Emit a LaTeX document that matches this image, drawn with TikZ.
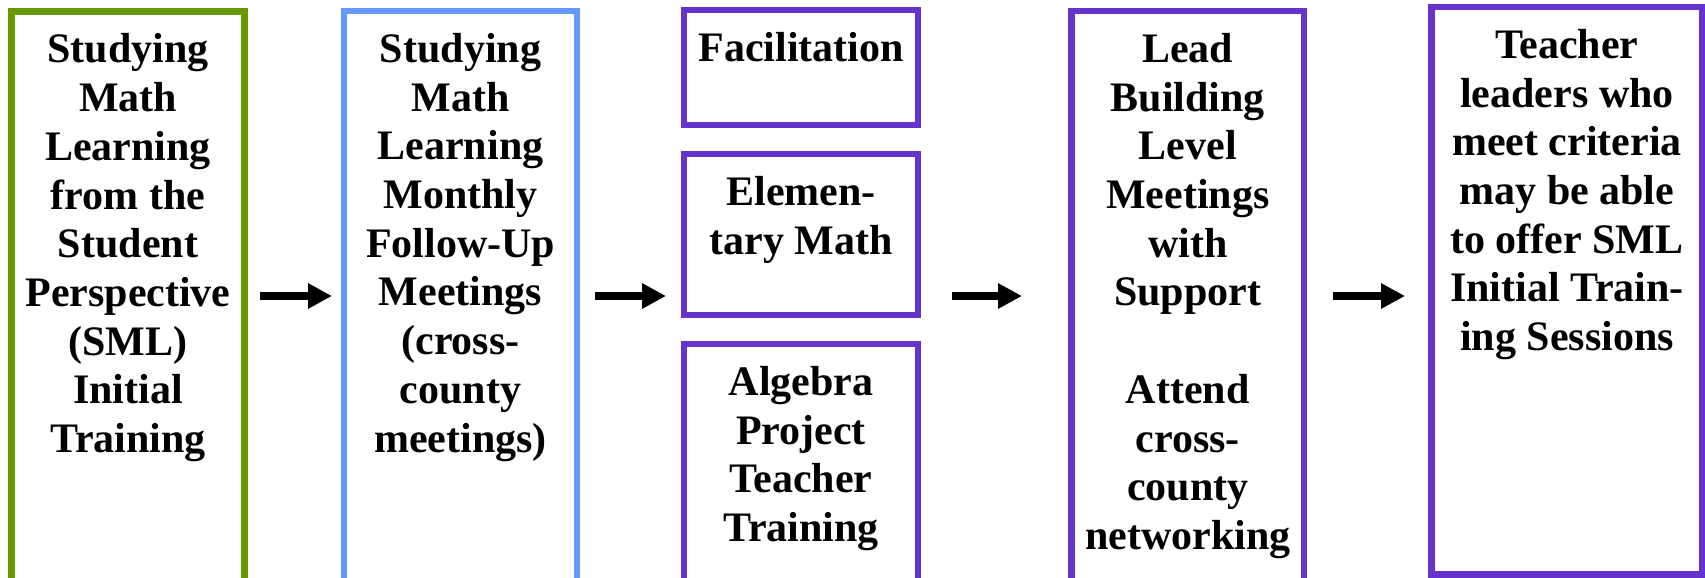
\documentclass[tikz,border=0pt]{standalone}
\usepackage{fontspec}
\setmainfont{Liberation Serif}
\usetikzlibrary{arrows.meta,calc}
\definecolor{stageGreen}{RGB}{102,153,0}
\definecolor{stageBlue}{RGB}{102,153,255}
\definecolor{stagePurple}{RGB}{102,51,204}
\begin{document}
\begin{tikzpicture}[x=1pt,y=-1pt,
  stagebox/.style={draw=#1, line width=6.8pt, inner sep=0pt, outer sep=0pt, anchor=north west},
  stagetext/.style={font=\bfseries\fontsize{42}{48.7}\selectfont, align=center, inner sep=0pt, anchor=north},
  arr/.style={line width=8pt, -{Triangle[length=24pt,width=24pt]}}]
\useasboundingbox (0,0) rectangle (1705,578);
\clip (0,0) rectangle (1705,578);
\fill[white] (0,0) rectangle (1705,578);

% stage frames
\node[stagebox=stageGreen,  minimum width=233pt,   minimum height=571pt]   (sml)    at (11.5,11.5) {};
\node[stagebox=stageBlue,   minimum width=233pt,   minimum height=572pt]   (follow) at (344,11) {};
\node[stagebox=stagePurple, minimum width=234pt,   minimum height=115pt]   (facil)  at (684,10) {};
\node[stagebox=stagePurple, minimum width=234pt,   minimum height=161pt]   (elem)   at (684,154) {};
\node[stagebox=stagePurple, minimum width=234pt,   minimum height=239pt]   (alg)    at (684,344) {};
\node[stagebox=stagePurple, minimum width=232.5pt, minimum height=572pt]   (lead)   at (1071.5,11) {};
\node[stagebox=stagePurple, minimum width=271pt,   minimum height=567.5pt] (offer)  at (1431.5,7) {};

% stage texts
\node[stagetext] (smlT) at ($(sml.north)+(0,22.1)$)
  {Studying\\Math\\Learning\\from the\\Student\\Perspective\\(SML)\\Initial\\Training};
\node[stagetext] (followT) at ($(follow.north)+(0,22.1)$)
  {Studying\\Math\\Learning\\Monthly\\Follow-Up\\Meetings\\(cross-\\county\\meetings)};
\node[stagetext] (facilT) at ($(facil.north)+(0,22.1)$) {Facilitation};
\node[stagetext] (elemT) at ($(elem.north)+(0,22.1)$) {Elemen-\\tary Math};
\node[stagetext] (algT) at ($(alg.north)+(0,22.1)$) {Algebra\\Project\\Teacher\\Training};
\node[stagetext] (leadT) at ($(lead.north)+(0,22.1)$)
  {Lead\\Building\\Level\\Meetings\\with\\Support\\[48.7pt]Attend\\cross-\\county\\networking};
\node[stagetext] (offerT) at ($(offer.north)+(0,22.1)$)
  {Teacher\\leaders who\\meet criteria\\may be able\\to offer SML\\Initial Train-\\ing Sessions};

% flow arrows
\coordinate (row) at (0,296);
\draw[arr, shorten <=15.5pt, shorten >=12pt]   (sml.east |- row)    -- (follow.west |- row);
\draw[arr, shorten <=18pt,   shorten >=18pt]   (follow.east |- row) -- (elem.west |- row);
\draw[arr, shorten <=34pt,   shorten >=49.5pt] (elem.east |- row)   -- (lead.west |- row);
\draw[arr, shorten <=29pt,   shorten >=26.5pt] (lead.east |- row)   -- (offer.west |- row);
\end{tikzpicture}
\end{document}
